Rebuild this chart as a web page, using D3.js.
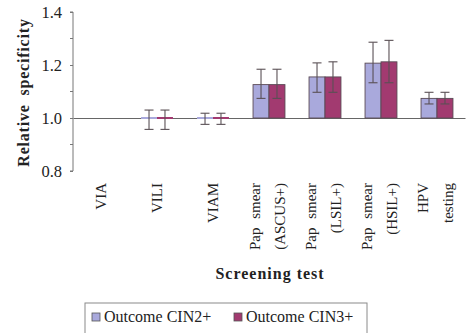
<!DOCTYPE html>
<html>
<head>
<meta charset="utf-8">
<script src="https://cdn.jsdelivr.net/npm/d3@7"></script>
<style>
  body { margin: 0; background: #fff; }
  svg text { font-family: "Times New Roman", "Liberation Serif", Times, serif; fill: #222; }
</style>
</head>
<body>
<svg id="chart" width="468" height="333"></svg>
<script>
// data
const categories = ['VIA', 'VILI', 'VIAM', 'Pap smear (ASCUS+)', 'Pap smear (LSIL+)', 'Pap smear (HSIL+)', 'HPV testing'];
const labelLines = [['VIA'], ['VILI'], ['VIAM'], ['Pap smear', '(ASCUS+)'], ['Pap smear', '(LSIL+)'], ['Pap smear', '(HSIL+)'], ['HPV', 'testing']];
const seriesNames = ['Outcome CIN2+', 'Outcome CIN3+'];
const cin2 = [null, 1.0, 1.0, 1.126, 1.155, 1.207, 1.074];
const cin2Lo = [null, 0.957, 0.976, 1.074, 1.097, 1.133, 1.053];
const cin2Hi = [null, 1.03, 1.018, 1.184, 1.208, 1.286, 1.097];
const cin3 = [null, 1.0, 1.0, 1.126, 1.155, 1.212, 1.074];
const cin3Lo = [null, 0.957, 0.976, 1.074, 1.097, 1.133, 1.053];
const cin3Hi = [null, 1.03, 1.018, 1.184, 1.212, 1.293, 1.097];
const yTicks = [0.8, 1.0, 1.2, 1.4];
const yMinor = [0.9, 1.1, 1.3];

const colors = ['#a9a9dc', '#a23a70'];
const serif = '"Times New Roman", "Liberation Serif", Times, serif';

const svg = d3.select('#chart');
const mLeft = 73, mRight = 465, mTop = 12, mBottom = 171;

const x = d3.scaleBand().domain(categories).range([mLeft, mRight]).paddingInner(0.43).paddingOuter(0.215);
const xs = d3.scaleBand().domain(seriesNames).range([0, x.bandwidth()]);
const y = d3.scaleLinear().domain([0.8, 1.4]).range([mBottom, mTop]);

// flatten rows
let rows = [];
categories.forEach((c, i) => {
  if (cin2[i] != null) rows.push({c: c, s: seriesNames[0], v: cin2[i], lo: cin2Lo[i], hi: cin2Hi[i], k: 0});
  if (cin3[i] != null) rows.push({c: c, s: seriesNames[1], v: cin3[i], lo: cin3Lo[i], hi: cin3Hi[i], k: 1});
});

// y axis
{
  let g = svg.append('g').attr('transform', `translate(${mLeft},0)`)
    .call(d3.axisLeft(y).tickValues(yTicks).tickSize(3).tickPadding(8).tickFormat(d3.format('.1f')));
  g.attr('font-family', serif);
  g.selectAll('text').style('font-size', '16.5px').attr('fill', '#222').attr('dy', '0.35em');
  g.selectAll('line, path').attr('stroke', '#777');
  g.select('.domain').attr('d', `M-3,${mTop}H0V${mBottom}H-3`);
  g.selectAll('.minor').data(yMinor).enter().append('line')
    .attr('class', 'minor')
    .attr('x1', -3).attr('x2', 0)
    .attr('y1', d => y(d)).attr('y2', d => y(d))
    .attr('stroke', '#777');
}

// reference line at 1.0
svg.append('g').attr('transform', `translate(0,${y(1)})`)
  .call(d3.axisBottom(x).tickValues([]).tickSizeOuter(0))
  .select('.domain').attr('stroke', '#666');

// bars
{
  let update = svg.append('g').selectAll('rect').data(rows);
  update.enter().append('rect')
    .attr('x', d => x(d.c) + xs(d.s))
    .attr('width', xs.bandwidth())
    .attr('y', d => d.v > 1 ? y(d.v) : y(1) - 1)
    .attr('height', d => d.v > 1 ? y(1) - y(d.v) : 2)
    .attr('fill', d => colors[d.k])
    .attr('stroke', d => d.v > 1 ? '#5a4a55' : 'none')
    .attr('stroke-width', 0.9);
}

// error bars
{
  let g = svg.append('g').attr('stroke', '#5a5055').attr('stroke-width', 1.1);
  let cx = d => x(d.c) + xs(d.s) + xs.bandwidth() / 2;
  g.selectAll('.v').data(rows).enter().append('line')
    .attr('x1', cx).attr('x2', cx)
    .attr('y1', d => y(d.hi)).attr('y2', d => y(d.lo));
  g.selectAll('.t').data(rows).enter().append('line')
    .attr('x1', d => cx(d) - 4.5).attr('x2', d => cx(d) + 4.5)
    .attr('y1', d => y(d.hi)).attr('y2', d => y(d.hi));
  g.selectAll('.b').data(rows).enter().append('line')
    .attr('x1', d => cx(d) - 4.5).attr('x2', d => cx(d) + 4.5)
    .attr('y1', d => y(d.lo)).attr('y2', d => y(d.lo));
}

// category labels (rotated)
{
  let offs = {1: [5], 2: [-9, 16]};
  categories.forEach((c, i) => {
    let lines = labelLines[i];
    lines.forEach((t, j) => {
      let px = x(c) + x.bandwidth() / 2 + offs[lines.length][j];
      svg.append('text')
        .attr('transform', `translate(${px},183) rotate(-90)`)
        .attr('text-anchor', 'end')
        .style('font-size', '15px')
        .style('word-spacing', '5px')
        .text(t);
    });
  });
}

// axis titles
svg.append('text')
  .attr('transform', `translate(29,${(mTop + mBottom) / 2 + 1}) rotate(-90)`)
  .attr('text-anchor', 'middle')
  .style('font-size', '16px').style('font-weight', 'bold').style('letter-spacing', '0.8px')
  .style('word-spacing', '4px')
  .text('Relative specificity');

svg.append('text')
  .attr('x', 270).attr('y', 279)
  .attr('text-anchor', 'middle')
  .style('font-size', '16px').style('font-weight', 'bold').style('letter-spacing', '1px')
  .text('Screening test');

// legend
{
  let lg = svg.append('g');
  lg.append('rect').attr('x', 85).attr('y', 303).attr('width', 282).attr('height', 40)
    .attr('fill', 'none').attr('stroke', '#8a8a8a');
  let pos = [92, 234];
  seriesNames.forEach((s, i) => {
    lg.append('rect').attr('x', pos[i]).attr('y', 313).attr('width', 8).attr('height', 8)
      .attr('fill', colors[i]).attr('stroke', '#555').attr('stroke-width', 0.8);
    lg.append('text').attr('x', pos[i] + 12).attr('y', 322)
      .style('font-size', '16px').text(s);
  });
}
</script>
</body>
</html>
